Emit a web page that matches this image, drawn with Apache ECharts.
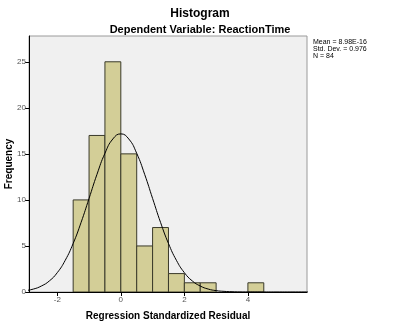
<!DOCTYPE html>
<html><head><meta charset="utf-8">
<script src="https://cdn.jsdelivr.net/npm/echarts@6/dist/echarts.min.js"></script>
<style>html,body{margin:0;padding:0;background:#fff}#c{width:400px;height:327px}</style>
</head><body><div id="c"></div>
<script>
// Histogram bins (left edge, bin width 0.5) and frequencies
var binStarts = [-1.5, -1.0, -0.5, 0.0, 0.5, 1.0, 1.5, 2.0, 2.5, 4.0];
var binCounts = [10, 17, 25, 15, 5, 7, 2, 1, 1, 1];
var binWidth = 0.5;
// Normal curve (x, expected frequency)
var curveX = [-3, -2.75, -2.5, -2.25, -2, -1.75, -1.5, -1.25, -1, -0.75, -0.5, -0.25, 0, 0.25, 0.5, 0.75, 1, 1.25, 1.5, 1.75, 2, 2.25, 2.5, 2.75, 3, 3.25, 3.5, 3.75, 4, 4.5, 5, 5.5, 6];
var curveY = [0.15, 0.32, 0.65, 1.20, 2.10, 3.44, 5.27, 7.56, 10.16, 12.78, 15.06, 16.62, 17.17, 16.62, 15.06, 12.78, 10.16, 7.56, 5.27, 3.44, 2.10, 1.20, 0.65, 0.32, 0.15, 0.07, 0.03, 0.01, 0.004, 0, 0, 0, 0];
var xTicks = [-2, 0, 2, 4];
var yTicks = [0, 5, 10, 15, 20, 25];
var statsLines = ['Mean = 8.98E-16', 'Std. Dev. = 0.976', 'N = 84'];

var histData = binStarts.map(function (s, i) { return [s, s + binWidth, binCounts[i]]; });
var curveData = curveX.map(function (x, i) { return [x, curveY[i]]; });

var font = 'Liberation Sans, Arial, sans-serif';
var chart = echarts.init(document.getElementById('c'), null, {renderer: 'canvas'});
chart.setOption({
  animation: false,
  backgroundColor: '#ffffff',
  title: [
    {text: 'Histogram', left: 'center', top: 3, textStyle: {fontFamily: font, fontSize: 12, fontWeight: 'bold', color: '#000'}},
    {text: 'Dependent Variable: ReactionTime', left: 'center', top: 19, textStyle: {fontFamily: font, fontSize: 11, fontWeight: 'bold', color: '#000'}}
  ],
  graphic: [{
    type: 'text', left: 313, top: 39,
    style: {text: statsLines.join('\n'), font: '7px ' + font, fill: '#000', lineHeight: 7}
  }],
  grid: {left: 29, top: 36, width: 278, height: 256, show: true, backgroundColor: '#f0f0f0', borderColor: '#9a9a9a', borderWidth: 1, containLabel: false, outerBoundsMode: 'none'},
  xAxis: {
    type: 'value', min: -2.89, max: 5.86,
    name: 'Regression Standardized Residual', nameLocation: 'middle', nameGap: 19, nameMoveOverlap: false,
    nameTextStyle: {fontFamily: font, fontSize: 10, fontWeight: 'bold', color: '#000'},
    axisLine: {show: true, onZero: false, lineStyle: {color: '#000', width: 1}},
    axisTick: {show: true, customValues: xTicks, length: 4, lineStyle: {color: '#000'}},
    axisLabel: {customValues: xTicks, fontFamily: font, fontSize: 8, color: '#555', margin: 4},
    splitLine: {show: false}
  },
  yAxis: {
    type: 'value', min: 0, max: 27.8,
    name: 'Frequency', nameLocation: 'middle', nameGap: 15, nameRotate: 90, nameMoveOverlap: false,
    nameTextStyle: {fontFamily: font, fontSize: 10, fontWeight: 'bold', color: '#000'},
    axisLine: {show: true, onZero: false, lineStyle: {color: '#000', width: 1}},
    axisTick: {show: true, customValues: yTicks, length: 4, lineStyle: {color: '#000'}},
    axisLabel: {customValues: yTicks, fontFamily: font, fontSize: 8, color: '#555', margin: 3},
    splitLine: {show: false}
  },
  series: [
    {
      type: 'custom', data: histData, clip: true,
      encode: {x: [0, 1], y: 2},
      renderItem: function (params, api) {
        var p0 = api.coord([api.value(0), api.value(2)]);
        var p1 = api.coord([api.value(1), 0]);
        return {
          type: 'rect',
          shape: {x: p0[0], y: p0[1], width: p1[0] - p0[0], height: p1[1] - p0[1]},
          style: {fill: '#d3ce97', stroke: '#3a3a2a', lineWidth: 1}
        };
      }
    },
    {
      type: 'line', data: curveData, smooth: true, showSymbol: false, clip: true,
      lineStyle: {color: '#000', width: 1}
    }
  ]
});
</script></body></html>
